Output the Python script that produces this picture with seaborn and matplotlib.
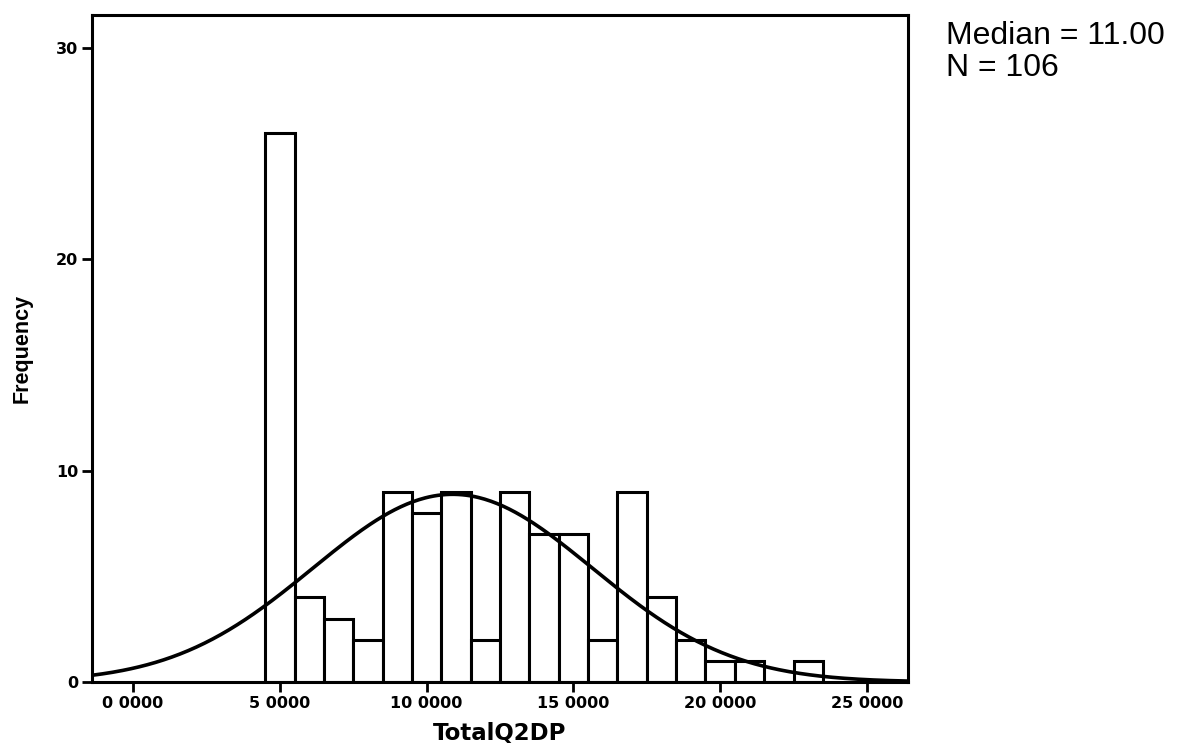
import numpy as np
import pandas as pd
import matplotlib
matplotlib.use("Agg")
import matplotlib.pyplot as plt
import seaborn as sns

# Score values (bin centres, width 1) and their frequencies
scores = [5, 6, 7, 8, 9, 10, 11, 12, 13, 14, 15, 16, 17, 18, 19, 20, 21, 22, 23]
counts = [26, 4, 3, 2, 9, 8, 9, 2, 9, 7, 7, 2, 9, 4, 2, 1, 1, 0, 1]

x_ticks = [0, 5, 10, 15, 20, 25]
x_tick_labels = ["0 0000", "5 0000", "10 0000", "15 0000", "20 0000", "25 0000"]
y_ticks = [0, 10, 20, 30]

sns.set_theme(style="white")
plt.rcParams["font.family"] = ["DejaVu Sans"]

df = pd.DataFrame({"TotalQ2DP": scores, "n": counts})

fig = plt.figure(figsize=(11.82, 7.43), dpi=100)
ax = fig.add_axes([0.0778, 0.0821, 0.6904, 0.8977])

sns.histplot(data=df, x="TotalQ2DP", weights="n", discrete=True,
             color="white", edgecolor="black", linewidth=2.2, alpha=1.0, ax=ax)

# Fitted normal curve, scaled to counts (bin width 1)
vals = np.repeat(scores, counts)
n = len(vals)
mu = vals.mean()
sd = vals.std(ddof=1)
xs = np.linspace(-1.4, 26.4, 400)
ys = n * np.exp(-0.5 * ((xs - mu) / sd) ** 2) / (sd * np.sqrt(2 * np.pi))
sns.lineplot(x=xs, y=ys, color="black", linewidth=2.6, ax=ax)

ax.set_xlim(-1.4, 26.4)
ax.set_ylim(0, 31.56)
ax.set_xticks(x_ticks)
ax.set_xticklabels(x_tick_labels)
ax.set_yticks(y_ticks)

for side in ["left", "right", "top", "bottom"]:
    ax.spines[side].set_visible(True)
    ax.spines[side].set_color("black")
    ax.spines[side].set_linewidth(2.2)

ax.tick_params(axis="both", which="major", direction="out", length=7, width=2,
               color="black", labelsize=11.5, pad=3, bottom=True, left=True)
for lab in ax.get_xticklabels() + ax.get_yticklabels():
    lab.set_fontweight("bold")
    lab.set_color("black")

ax.set_xlabel("TotalQ2DP", fontsize=16.5, fontweight="bold", color="black", labelpad=8)
ax.set_ylabel("Frequency", fontsize=15.5, fontweight="bold", color="black",
              family=["Liberation Sans", "DejaVu Sans"], labelpad=17)

med = np.median(vals)
fig.text(0.800, 0.972, f"Median = {med:.2f}\nN = {n}", ha="left", va="top",
         fontsize=23, family=["Liberation Sans", "DejaVu Sans"], color="black",
         linespacing=1.1)

fig.savefig("out.png", dpi=100, facecolor="white")
